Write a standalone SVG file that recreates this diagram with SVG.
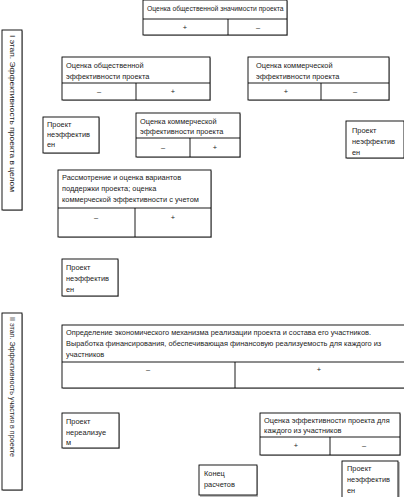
<svg xmlns="http://www.w3.org/2000/svg" width="404" height="497" viewBox="0 0 404 497">
<style>
.b{fill:#fff;stroke:#000;stroke-width:0.9}
.s{fill:#bbb}
.l{stroke:#000;stroke-width:0.9}
text{font-family:"Liberation Sans","DejaVu Sans",sans-serif;font-size:7.4px;fill:#222}
.c{text-anchor:middle}
.t{font-size:6.8px}
.v{font-size:7.6px}
</style>
<defs>
<clipPath id="supclip"><rect x="58" y="170" width="153" height="38"/></clipPath>
</defs>
<rect width="404" height="497" fill="#fff"/>
<g id="stage1">
<rect class="s" x="3" y="31" width="20" height="180"/>
<rect class="b" x="2" y="30" width="20" height="180"/>
<text class="v" transform="translate(10,35) rotate(90)" textLength="157" lengthAdjust="spacingAndGlyphs">I этап. Эффективность проекта в целом</text>
</g>
<g id="stage2">
<rect class="s" x="3" y="314" width="20" height="177"/>
<rect class="b" x="2" y="313" width="20" height="177"/>
<text class="v" transform="translate(10,317) rotate(90)" textLength="140" lengthAdjust="spacingAndGlyphs">II этап. Эффективность участия в проекте</text>
</g>
<g id="n-top">
<rect class="s" x="144" y="1" width="144" height="35"/>
<rect class="b" x="143" y="0" width="144" height="35"/>
<line class="l" x1="143" y1="19" x2="287" y2="19"/>
<line class="l" x1="228" y1="19" x2="228" y2="35"/>
<text class="t" x="147" y="11">Оценка общественной значимости проекта</text>
<text class="c" x="185" y="30">+</text>
<text class="c" x="258" y="30">–</text>
</g>
<g id="n-soc">
<rect class="s" x="63" y="58" width="148" height="43"/>
<rect class="b" x="62" y="57" width="148" height="43"/>
<line class="l" x1="62" y1="83" x2="210" y2="83"/>
<line class="l" x1="136" y1="83" x2="136" y2="100"/>
<text x="66" y="68">Оценка общественной</text>
<text x="66" y="79">эффективности проекта</text>
<text class="c" x="99" y="94">–</text>
<text class="c" x="173" y="94">+</text>
</g>
<g id="n-com1">
<rect class="s" x="249" y="58" width="141" height="43"/>
<rect class="b" x="248" y="57" width="141" height="43"/>
<line class="l" x1="248" y1="83" x2="389" y2="83"/>
<line class="l" x1="321" y1="83" x2="321" y2="100"/>
<text x="256" y="68">Оценка коммерческой</text>
<text x="256" y="79">эффективности проекта</text>
<text class="c" x="286" y="94">+</text>
<text class="c" x="355" y="94">–</text>
</g>
<g id="n-p1">
<rect class="s" x="44" y="118" width="56" height="36"/>
<rect class="b" x="43" y="117" width="56" height="36"/>
<text x="47" y="127">Проект</text>
<text x="47" y="137">неэффектив</text>
<text x="47" y="147">ен</text>
</g>
<g id="n-com2">
<rect class="s" x="137" y="114" width="104" height="44"/>
<rect class="b" x="136" y="113" width="104" height="44"/>
<line class="l" x1="136" y1="138" x2="240" y2="138"/>
<line class="l" x1="190" y1="138" x2="190" y2="157"/>
<text x="140" y="124">Оценка коммерческой</text>
<text x="140" y="134">эффективности проекта</text>
<text class="c" x="163" y="150">–</text>
<text class="c" x="215" y="150">+</text>
</g>
<g id="n-p2">
<rect class="s" x="347" y="122" width="58" height="37"/>
<rect class="b" x="346" y="121" width="58" height="37"/>
<text x="352" y="133">Проект</text>
<text x="352" y="144">неэффектив</text>
<text x="352" y="155">ен</text>
</g>
<g id="n-sup">
<rect class="s" x="59" y="171" width="153" height="67"/>
<rect class="b" x="58" y="170" width="153" height="67"/>
<g clip-path="url(#supclip)">
<text x="62" y="180">Рассмотрение и оценка вариантов</text>
<text x="62" y="191">поддержки проекта; оценка</text>
<text x="62" y="202">коммерческой эффективности с учетом</text>
<text x="62" y="212">ее реализации</text>
</g>
<line class="l" x1="58" y1="208" x2="211" y2="208"/>
<line class="l" x1="135" y1="208" x2="135" y2="237"/>
<text class="c" x="96" y="220">–</text>
<text class="c" x="173" y="220">+</text>
</g>
<g id="n-p3">
<rect class="s" x="63" y="260" width="56" height="37"/>
<rect class="b" x="62" y="259" width="56" height="37"/>
<text x="66" y="270">Проект</text>
<text x="66" y="281">неэффектив</text>
<text x="66" y="292">ен</text>
</g>
<g id="n-mech">
<rect class="s" x="63" y="326" width="343" height="63"/>
<rect class="b" x="62" y="325" width="343" height="63"/>
<line class="l" x1="62" y1="362" x2="404" y2="362"/>
<line class="l" x1="235" y1="362" x2="235" y2="388"/>
<text x="66" y="335">Определение экономического механизма реализации проекта и состава его участников.</text>
<text x="66" y="346">Выработка финансирования, обеспечивающая финансовую реализуемость для каждого из</text>
<text x="66" y="357">участников</text>
<text class="c" x="148" y="372">–</text>
<text class="c" x="319" y="372">+</text>
</g>
<g id="n-p4">
<rect class="s" x="63" y="414" width="57" height="35"/>
<rect class="b" x="62" y="413" width="57" height="35"/>
<text x="66" y="424">Проект</text>
<text x="66" y="435">нереализуе</text>
<text x="66" y="445">м</text>
</g>
<g id="n-part">
<rect class="s" x="261" y="414" width="140" height="42"/>
<rect class="b" x="260" y="413" width="140" height="42"/>
<line class="l" x1="260" y1="437" x2="400" y2="437"/>
<line class="l" x1="330" y1="437" x2="330" y2="455"/>
<text x="264" y="423">Оценка эффективности проекта для</text>
<text x="264" y="433">каждого из участников</text>
<text class="c" x="296" y="448">+</text>
<text class="c" x="364" y="448">–</text>
</g>
<g id="n-end">
<rect class="s" x="200" y="466" width="58" height="31"/>
<rect class="b" x="199" y="465" width="58" height="30"/>
<text x="204" y="476">Конец</text>
<text x="204" y="487">расчетов</text>
</g>
<g id="n-p5">
<rect class="s" x="343" y="462" width="57" height="40"/>
<rect class="b" x="342" y="461" width="56" height="40"/>
<text x="347" y="471">Проект</text>
<text x="347" y="482">неэффектив</text>
<text x="347" y="493">ен</text>
</g>
<g id="connectors"></g>
</svg>
